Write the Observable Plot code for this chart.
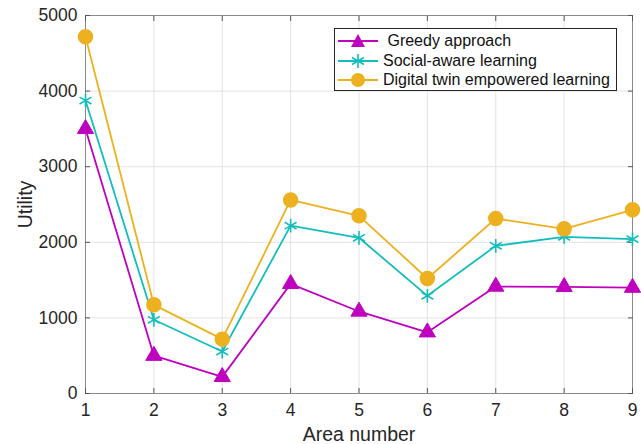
<!DOCTYPE html>
<html><head><meta charset="utf-8">
<script src="https://cdn.jsdelivr.net/npm/d3@7"></script>
<script src="https://cdn.jsdelivr.net/npm/@observablehq/plot@0.6"></script>
<style>
body{margin:0;background:#fff;font-family:"Liberation Sans",Arial,sans-serif;}
#wrap{position:relative;width:641px;height:444px;}
#legend{position:absolute;left:334px;top:28px;width:283px;height:63px;border:1px solid #262626;background:#fff;box-sizing:border-box;font-size:16px;color:#111;}
.row{position:absolute;left:0;height:20px;display:flex;align-items:center;}
.row svg{margin-left:3px;margin-right:5px;}
</style></head><body>
<div id="wrap"><div id="chart"></div><div id="legend"></div></div>
<script>
const areas = [1,2,3,4,5,6,7,8,9];
const greedy = [3500, 500, 220, 1450, 1085, 810, 1415, 1410, 1400];
const social = [3875, 975, 555, 2220, 2060, 1292, 1953, 2072, 2042];
const digital = [4718, 1173, 719, 2560, 2350, 1521, 2315, 2178, 2430];
const seriesNames = [" Greedy approach", "Social-aware learning", "Digital twin empowered learning"];
const colors = ["#BF00BF", "#14BDBD", "#EDB120"];
const symbols = ["triangle", "asterisk", "circle"];
const yTicks = [0,1000,2000,3000,4000,5000];

const rows = [];
[greedy, social, digital].forEach((vals, s) => vals.forEach((v, i) => rows.push({area: areas[i], value: v, s})));

const blank = () => "";
const chart = Plot.plot({
  width: 641, height: 444,
  marginLeft: 85, marginRight: 9, marginTop: 15, marginBottom: 51,
  style: {fontFamily: '"Liberation Sans", Arial, sans-serif', fontSize: "17.5px", color: "#262626"},
  x: {domain: [1, 9], ticks: areas},
  y: {domain: [0, 5000], ticks: yTicks},
  marks: [
    Plot.gridX(areas, {stroke: "#e3e3e3", strokeOpacity: 1}),
    Plot.gridY(yTicks, {stroke: "#e3e3e3", strokeOpacity: 1}),
    Plot.frame({stroke: "#8a8a8a"}),
    Plot.axisX({ticks: areas, tickSize: -5, tickPadding: 15, stroke: "#555", fill: "#262626", fontSize: 17.5, label: "Area number", labelAnchor: "center", labelOffset: 47, labelArrow: false}),
    Plot.axisX({anchor: "top", ticks: areas, tickSize: -5, tickFormat: blank, stroke: "#555", label: null}),
    Plot.axisY({ticks: yTicks, tickSize: -5, tickPadding: 13, tickFormat: d3.format("d"), stroke: "#555", fill: "#262626", fontSize: 17.5, label: "Utility", labelAnchor: "center", labelOffset: 67, labelArrow: false}),
    Plot.axisY({anchor: "right", ticks: yTicks, tickSize: -5, tickFormat: blank, stroke: "#555", label: null}),
    ...[0,1,2].map(s => Plot.line(rows.filter(d => d.s === s), {x: "area", y: "value", stroke: colors[s], strokeWidth: 1.8})),
    Plot.dot(rows.filter(d => d.s === 0), {x: "area", y: "value", symbol: "triangle", r: 6, fill: colors[0], stroke: colors[0], strokeWidth: 1}),
    Plot.dot(rows.filter(d => d.s === 1), {x: "area", y: "value", symbol: "asterisk", r: 6.5, stroke: colors[1], strokeWidth: 1.6}),
    Plot.dot(rows.filter(d => d.s === 2), {x: "area", y: "value", symbol: "circle", r: 7, fill: colors[2], stroke: colors[2]})
  ]
});
document.getElementById("chart").appendChild(chart);
d3.select(chart).selectAll("text").filter(function(){return this.textContent==="Area number"||this.textContent==="Utility";}).style("font-size","19.5px");

const legend = document.getElementById("legend");
const symSvg = {
  triangle: c => `<polygon points="20,2 27,15 13,15" fill="${c}"/>`,
  asterisk: c => `<g stroke="${c}" stroke-width="1.6"><line x1="20" y1="2" x2="20" y2="16"/><line x1="14" y1="5.5" x2="26" y2="12.5"/><line x1="14" y1="12.5" x2="26" y2="5.5"/></g>`,
  circle: c => `<circle cx="20" cy="9" r="7" fill="${c}"/>`
};
seriesNames.forEach((n, s) => {
  const r = document.createElement("div");
  r.className = "row";
  r.style.top = (2 + s * 19.5) + "px";
  r.innerHTML = `<svg width="40" height="18"><line x1="0" y1="9" x2="40" y2="9" stroke="${colors[s]}" stroke-width="1.8"/>${symSvg[symbols[s]](colors[s])}</svg><span>${n.replace(/^ /, "&nbsp;")}</span>`;
  legend.appendChild(r);
});
</script></body></html>
